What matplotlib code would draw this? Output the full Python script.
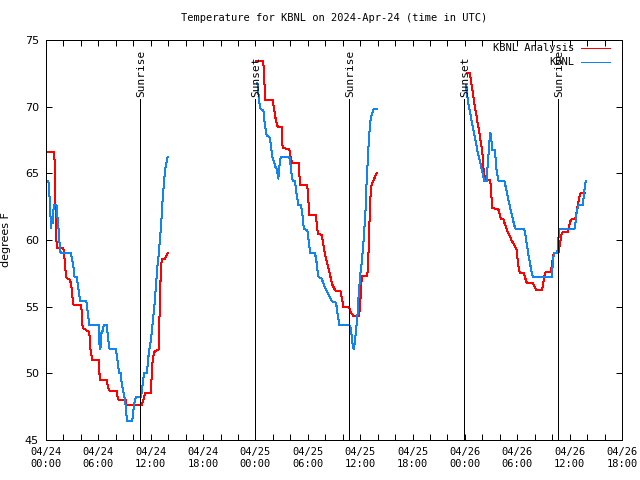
import numpy as np
import matplotlib
matplotlib.use('Agg')
import matplotlib.pyplot as plt

# hours since 2024-04-24 00:00 UTC, temperatures in degrees F
# KBNL Analysis (red), three night segments
ana1_h = [0.27, 0.95, 1.0, 1.07, 1.15, 1.22, 1.99, 2.07, 2.18, 2.29, 2.75,
          2.9, 3.02, 3.17, 4.01, 4.1, 4.2, 4.97, 5.04, 5.2, 5.31, 6.04, 6.12,
          6.23, 6.95, 7.1, 7.26, 8.1, 8.2, 8.33, 9.17, 9.24, 10.96, 11.15,
          11.34, 11.99, 12.11, 12.22, 12.38, 12.91, 12.99, 13.06, 13.15,
          13.25, 13.64, 13.8, 13.94]
ana1_t = [66.6, 66.6, 65.5, 63.0, 61.4, 59.4, 59.4, 59.0, 58.2, 57.2, 57.0,
          56.6, 55.8, 55.1, 55.1, 54.6, 53.4, 53.1, 52.0, 51.4, 51.0, 51.0,
          50.0, 49.5, 49.5, 49.0, 48.7, 48.7, 48.2, 48.0, 48.0, 47.6, 47.6,
          48.0, 48.5, 48.5, 49.8, 51.0, 51.6, 51.8, 53.5, 56.9, 56.9, 58.55,
          58.6, 58.8, 59.0]
ana2_h = [24.06, 24.9, 25.01, 25.13, 25.97, 26.08, 26.2, 26.31, 26.47,
          26.62, 27.0, 27.11, 27.88, 27.99, 28.18, 28.95, 29.02, 29.14,
          29.94, 30.06, 30.17, 30.93, 31.01, 31.16, 31.58, 31.7, 31.81,
          31.93, 32.08, 32.23, 32.39, 32.54, 32.69, 32.84, 33.15, 33.72,
          33.91, 34.07, 34.72, 34.91, 35.21, 35.86, 35.98, 36.13, 36.24,
          36.74, 36.89, 37.05, 37.16, 37.31, 37.5, 37.7, 37.89]
ana2_t = [73.4, 73.4, 72.0, 70.5, 70.5, 70.0, 69.55, 69.1, 68.6, 68.5, 68.5,
          66.9, 66.8, 66.3, 65.8, 65.75, 65.0, 64.1, 64.1, 63.0, 61.9, 61.9,
          61.25, 60.45, 60.4, 60.0, 59.55, 59.1, 58.6, 58.25, 57.8, 57.4,
          56.95, 56.6, 56.2, 56.2, 55.6, 55.0, 55.0, 54.6, 54.3, 54.3, 54.9,
          56.75, 57.3, 57.3, 57.75, 61.05, 63.1, 64.2, 64.4, 64.75, 65.0]
ana3_h = [48.28, 48.59, 48.7, 48.82, 48.97, 49.08, 49.2, 49.35, 49.46,
          49.58, 49.69, 49.81, 49.92, 50.04, 50.11, 50.23, 50.3, 50.88,
          50.99, 51.11, 51.83, 51.95, 52.1, 52.41, 52.52, 52.67, 52.79,
          52.98, 53.17, 53.36, 53.55, 53.74, 53.93, 54.05, 54.2, 54.32,
          54.77, 54.93, 55.08, 55.77, 55.92, 56.15, 56.8, 56.95, 57.07,
          57.26, 57.83, 57.94, 58.06, 58.21, 58.63, 58.75, 58.9, 59.05,
          59.2, 59.78, 59.93, 60.08, 60.24, 60.62, 60.77, 60.92, 61.08,
          61.23, 61.76]
ana3_t = [72.5, 72.5, 71.9, 71.4, 70.75, 70.25, 69.75, 69.25, 68.75, 68.4,
          67.9, 67.4, 66.9, 66.25, 65.5, 64.9, 64.5, 64.5, 63.9, 62.4, 62.3,
          62.0, 61.6, 61.55, 61.3, 61.05, 60.8, 60.5, 60.25, 59.95, 59.75,
          59.55, 59.25, 58.5, 57.75, 57.5, 57.5, 57.1, 56.8, 56.8, 56.6,
          56.25, 56.25, 56.6, 57.2, 57.6, 57.6, 58.0, 58.6, 59.05, 59.05,
          59.1, 59.75, 60.4, 60.6, 60.6, 61.0, 61.4, 61.55, 61.55, 62.0,
          62.6, 63.1, 63.5, 63.5]

# KBNL observations (blue)
obs1_h = [0.27, 0.34, 0.46, 0.57, 0.69, 0.76, 0.84, 0.95, 1.22, 1.34, 1.45,
          1.57, 1.68, 2.86, 2.98, 3.13, 3.25, 3.51, 3.59, 3.74, 3.9, 4.62,
          4.74, 4.85, 4.97, 6.04, 6.11, 6.23, 6.34, 6.53, 6.61, 6.95, 7.07,
          7.18, 7.3, 8.02, 8.14, 8.25, 8.37, 8.56, 8.67, 8.86, 9.05, 9.17,
          9.28, 9.89, 10.01, 10.16, 10.31, 10.89, 11.0, 11.12, 11.23, 11.57,
          11.69, 11.8, 11.92, 12.07, 12.18, 12.3, 12.41, 12.53, 12.64, 12.76,
          12.87, 12.99, 13.1, 13.22, 13.33, 13.45, 13.56, 13.67, 13.83,
          13.94]
obs1_t = [64.4, 63.9, 62.6, 60.9, 61.6, 61.25, 62.25, 62.6, 62.6, 61.5,
          60.75, 59.6, 59.0, 59.0, 58.6, 58.1, 57.25, 57.25, 56.9, 56.25,
          55.45, 55.45, 54.75, 54.25, 53.6, 53.6, 52.25, 51.8, 53.0, 53.25,
          53.6, 53.6, 52.95, 52.25, 51.8, 51.8, 51.1, 50.75, 50.0, 50.0,
          49.25, 48.6, 48.0, 47.25, 46.45, 46.45, 47.25, 47.9, 48.25, 48.25,
          48.75, 49.4, 50.0, 50.05, 51.0, 51.6, 52.1, 52.75, 53.5, 54.3,
          55.0, 56.0, 56.9, 58.0, 58.6, 59.5, 60.4, 61.4, 62.75, 63.75,
          64.6, 65.4, 65.9, 66.25]
obs2_h = [24.22, 24.33, 24.45, 24.6, 24.91, 25.02, 25.18, 25.29, 25.6,
          25.75, 25.86, 25.98, 26.13, 26.24, 26.44, 26.62, 26.72, 26.89,
          27.89, 28.04, 28.15, 28.27, 28.54, 28.65, 28.73, 28.92, 29.22,
          29.38, 29.49, 29.61, 29.95, 30.1, 30.26, 30.83, 31.02, 31.13,
          31.25, 31.59, 31.78, 31.97, 32.24, 32.47, 32.66, 32.85, 33.24,
          33.39, 33.62, 34.76, 34.92, 35.03, 35.14, 35.26, 35.37, 35.53,
          35.68, 35.79, 35.91, 36.02, 36.14, 36.25, 36.37, 36.48, 36.6,
          36.67, 36.83, 36.94, 37.13, 37.32, 37.51, 37.89]
obs2_t = [71.75, 71.0, 70.25, 69.8, 69.75, 69.0, 68.25, 67.8, 67.75, 67.25,
          66.6, 66.1, 65.9, 65.55, 65.3, 64.6, 65.4, 66.2, 66.2, 65.55,
          64.9, 64.4, 64.4, 63.75, 63.4, 62.6, 62.6, 61.9, 61.1, 60.8, 60.75,
          59.9, 59.05, 59.0, 58.25, 57.6, 57.2, 57.1, 56.75, 56.45, 56.1,
          55.8, 55.5, 55.35, 55.3, 54.5, 53.6, 53.6, 53.4, 52.75, 52.1,
          51.8, 52.25, 53.25, 54.25, 55.5, 56.6, 57.5, 58.1, 58.9, 59.75,
          60.9, 62.0, 63.5, 65.5, 66.9, 68.75, 69.4, 69.8, 69.8]
obs3_h = [48.13, 48.2, 48.32, 48.43, 48.55, 48.66, 48.78, 48.89, 49.01,
          49.12, 49.24, 49.35, 49.46, 49.58, 49.73, 49.85, 49.96, 50.23,
          50.5, 50.57, 50.69, 50.8, 50.92, 51.03, 51.15, 51.45, 51.57,
          51.72, 51.87, 52.52, 52.67, 52.79, 52.9, 53.02, 53.17, 53.28,
          53.44, 53.55, 53.7, 53.86, 54.81, 54.93, 55.04, 55.16, 55.27,
          55.39, 55.5, 55.65, 55.81, 57.94, 58.02, 58.1, 58.21, 58.52,
          58.63, 58.71, 58.78, 60.54, 60.66, 60.77, 60.88, 61.0, 61.5,
          61.61, 61.69, 61.76, 61.84]
obs3_t = [71.6, 71.1, 70.6, 70.1, 69.75, 69.3, 68.9, 68.5, 68.1, 67.75,
          67.4, 67.0, 66.6, 66.25, 65.9, 65.5, 65.25, 64.4, 64.4, 65.25,
          66.25, 67.4, 68.05, 67.5, 66.75, 66.75, 65.5, 64.9, 64.4, 64.4,
          64.0, 63.6, 63.25, 62.9, 62.5, 62.1, 61.75, 61.4, 61.0, 60.8, 60.8,
          60.4, 59.9, 59.4, 58.9, 58.5, 58.1, 57.6, 57.2, 57.2, 57.75, 58.6,
          59.0, 59.0, 59.25, 60.0, 60.8, 60.8, 61.25, 61.9, 62.3, 62.6, 62.6,
          63.25, 63.75, 64.1, 64.4]

sun_h = [10.77, 23.95, 34.75, 47.92, 58.70]
sun_lbl = ['Sunrise', 'Sunset', 'Sunrise', 'Sunset', 'Sunrise']

xtick_pos = [0, 6, 12, 18, 24, 30, 36, 42, 48, 54, 60, 66]
xtick_lbl = ['04/24\n00:00', '04/24\n06:00', '04/24\n12:00', '04/24\n18:00',
             '04/25\n00:00', '04/25\n06:00', '04/25\n12:00', '04/25\n18:00',
             '04/26\n00:00', '04/26\n06:00', '04/26\n12:00', '04/26\n18:00']

red = '#ff0000'
blue = '#1085f0'
mono = 'DejaVu Sans Mono'
lw = 0.72  # one pixel at 100 dpi
plt.rcParams['lines.antialiased'] = False

fig = plt.figure(figsize=[6.4, 4.8], dpi=100)
ax = fig.add_axes([46/640, 40/480, 576/640, 400/480])

for h, t in [(ana1_h, ana1_t), (ana2_h, ana2_t), (ana3_h, ana3_t)]:
    ax.plot(h, t, color=red, lw=lw)
for h, t in [(obs1_h, obs1_t), (obs2_h, obs2_t), (obs3_h, obs3_t)]:
    ax.plot(h, t, color=blue, lw=lw)

for h, s in zip(sun_h, sun_lbl):
    ax.plot([h, h], [45, 70.57], color='black', lw=lw)
    ax.text(h + 0.1, 70.75, s, rotation=90, ha='center', va='bottom',
            family=mono, fontsize=8)

# key at top right, gnuplot style (text then sample line)
key_lbl = ['KBNL Analysis', 'KBNL']
key_col = [red, blue]
for i, (s, c) in enumerate(zip(key_lbl, key_col)):
    ky = 0.98 - i * 0.035
    ax.plot([0.9288, 0.9792], [ky, ky], color=c, lw=lw,
            transform=ax.transAxes)
    ax.text(0.9167, ky, s, ha='right', va='center', family=mono,
            fontsize=7.5, transform=ax.transAxes)

ax.set_xlim(0, 66)
ax.set_ylim(45, 75)
ax.set_xticks(xtick_pos)
ax.set_xticklabels(xtick_lbl, family=mono, fontsize=7.5)
ax.set_xticks(np.arange(0, 67, 2), minor=True)
ax.set_yticks([45, 50, 55, 60, 65, 70, 75])
ax.tick_params(axis='y', labelsize=8)
ax.tick_params(which='both', direction='in', top=True, right=True,
               length=4, width=lw, pad=5)
for sp in ax.spines.values():
    sp.set_linewidth(lw)
ax.set_ylabel('degrees F', fontsize=8, labelpad=10)
ax.set_title('Temperature for KBNL on 2024-Apr-24 (time in UTC)',
             family=mono, fontsize=7.5, pad=14)

plt.savefig('out.png', dpi=100)
